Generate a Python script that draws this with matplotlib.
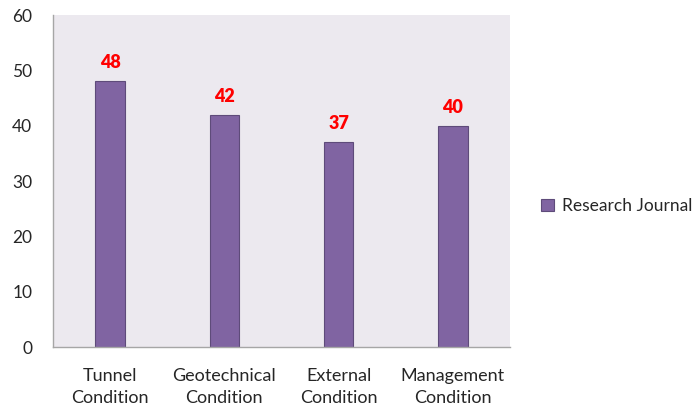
import matplotlib.pyplot as plt
import numpy as np

categories = ["Tunnel\nCondition", "Geotechnical\nCondition", "External\nCondition", "Management\nCondition"]
values = [48, 42, 37, 40]
series_name = "Research Journal"
y_ticks = [0, 10, 20, 30, 40, 50, 60]

plt.rcParams['font.family'] = ['Lato', 'DejaVu Sans']

fig = plt.figure(figsize=(6.94, 4.05), dpi=100)
ax = fig.add_axes([53 / 694, 1 - 347 / 405, (510 - 53) / 694, (347 - 15) / 405])
ax.set_facecolor('#ECE9EF')

x = np.arange(len(categories))
bars = ax.bar(x, values, width=0.26, color='#8064A2', edgecolor='#5E4B7A',
              linewidth=0.8, label=series_name)

# value labels above bars
for rect, v in zip(bars, values):
    ax.text(rect.get_x() + rect.get_width() / 2, v + 1.8, str(v),
            ha='center', va='bottom', color='#FF0000', fontweight='heavy', fontsize=13)

ax.set_xlim(-0.5, len(categories) - 0.5)
ax.set_ylim(0, 60)
ax.set_yticks(y_ticks)
ax.set_xticks(x)
ax.set_xticklabels(categories, fontsize=13, color='#262626', linespacing=1.45)
ax.tick_params(axis='y', labelsize=12.5, colors='#262626', length=0, pad=15)
ax.tick_params(axis='x', length=0, pad=15)

for side in ['top', 'right']:
    ax.spines[side].set_visible(False)
for side in ['left', 'bottom']:
    ax.spines[side].set_color('#A6A6A6')
    ax.spines[side].set_linewidth(1.0)

leg = fig.legend(loc='center left', bbox_to_anchor=(541 / 694, 1 - 206 / 405),
                 frameon=False, fontsize=12.5, handlelength=0.75, handleheight=0.75,
                 handletextpad=0.45, borderaxespad=0, borderpad=0)
for t in leg.get_texts():
    t.set_color('#262626')

fig.savefig('out.png', dpi=100)
